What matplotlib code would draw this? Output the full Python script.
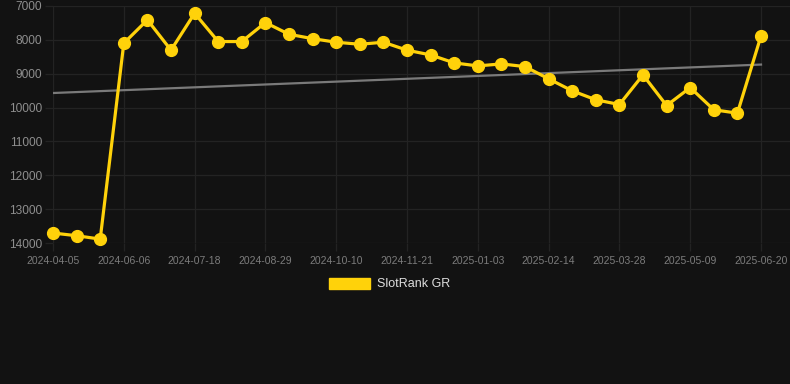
import numpy as np
import matplotlib
matplotlib.use('Agg')
import matplotlib.pyplot as plt
from matplotlib.patches import Patch

# Data (x axis is categorical, one label every 3rd point)
dates = ['2024-04-05', '2024-04-26', '2024-05-16', '2024-06-06', '2024-06-20',
         '2024-07-04', '2024-07-18', '2024-08-01', '2024-08-15', '2024-08-29',
         '2024-09-12', '2024-09-26', '2024-10-10', '2024-10-24', '2024-11-07',
         '2024-11-21', '2024-12-05', '2024-12-19', '2025-01-03', '2025-01-17',
         '2025-01-31', '2025-02-14', '2025-02-28', '2025-03-14', '2025-03-28',
         '2025-04-11', '2025-04-25', '2025-05-09', '2025-05-23', '2025-06-06',
         '2025-06-20']
ranks = [13705, 13785, 13885, 8100, 7410, 8305, 7215, 8050, 8050, 7490,
         7835, 7965, 8070, 8130, 8070, 8305, 8445, 8680, 8770, 8710,
         8790, 9150, 9505, 9770, 9910, 9035, 9940, 9410, 10065, 10165,
         7885]
trend_vals = [9570, 8730]   # at first and last point
y_ticks = [7000, 8000, 9000, 10000, 11000, 12000, 13000, 14000]
series_name = 'SlotRank GR'

bg = '#121212'
grid_col = '#232323'
yellow = '#FFD20A'

plt.rcParams['font.family'] = ['Liberation Sans', 'DejaVu Sans']

fig = plt.figure(figsize=(7.9, 3.84), dpi=100, facecolor=bg)
W, H = 790, 384
# chart area in pixels: left 53, right 790, top 6, bottom 243
ax = fig.add_axes([53 / W, 1 - 243 / H, (790 - 53) / W, (243 - 6) / H])
ax.set_facecolor(bg)

x = np.arange(len(dates))
ax.plot([x[0], x[-1]], trend_vals, color='#7a7a7a', lw=1.6, zorder=2)
ax.plot(x, ranks, color=yellow, lw=2.3, marker='o', ms=8.5,
        markerfacecolor=yellow, markeredgecolor=yellow, zorder=3, clip_on=False)

px_per_pt = (761 - 53) / (len(dates) - 1)
ax.set_xlim(0, (790 - 53) / px_per_pt)
ax.set_ylim(14000, 7000)

ax.set_xticks(x[::3])
ax.set_xticklabels(dates[::3])
ax.set_yticks(y_ticks)

ax.grid(True, color=grid_col, lw=0.9)
ax.set_axisbelow(True)
for s in ax.spines.values():
    s.set_visible(False)

ax.tick_params(axis='x', colors=grid_col, length=6, width=0.9, pad=3,
               labelsize=7.5, labelcolor='#7c7c7c')
ax.tick_params(axis='y', colors=grid_col, length=6, width=0.9, pad=2,
               labelsize=8.6, labelcolor='#8e8e8e')

fig.legend(handles=[Patch(facecolor=yellow, edgecolor=yellow)], labels=[series_name],
           loc='center', bbox_to_anchor=(389.5 / W, 1 - 284 / H), frameon=False,
           fontsize=9, labelcolor='#dddddd', handlelength=3.3, handleheight=1.0,
           handletextpad=0.5, borderpad=0)

fig.savefig('out.png', dpi=100, facecolor=bg)
